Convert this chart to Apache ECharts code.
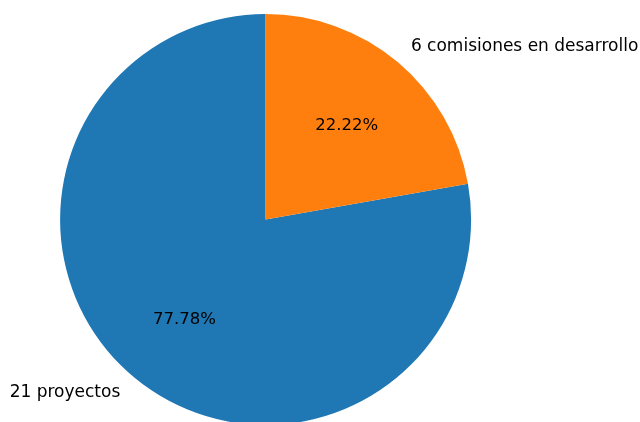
<!DOCTYPE html>
<html>
<head>
<meta charset="utf-8">
<script src="https://cdn.jsdelivr.net/npm/echarts@6/dist/echarts.min.js"></script>
<style>
html,body{margin:0;padding:0;background:#fff;}
#chart{width:640px;height:422px;}
</style>
</head>
<body>
<div id="chart"></div>
<script>
var categories = ['21 proyectos', '6 comisiones en desarrollo'];
var values = [21, 6];
var colors = ['#1f77b4', '#ff7f0e'];

var R = 205.5;
var CENTER = [265.6, 219.5];
var FONT = 'DejaVu Sans';
var total = values.reduce(function (a, b) { return a + b; }, 0);

var data = categories.map(function (c, i) {
  return { name: c, value: values[i], itemStyle: { color: colors[i] } };
});
var ghostData = categories.map(function (c, i) {
  return { name: c, value: values[i], itemStyle: { color: 'rgba(0,0,0,0)' } };
});

var chart = echarts.init(document.getElementById('chart'), null, { renderer: 'canvas' });
chart.setOption({
  animation: false,
  backgroundColor: '#ffffff',
  series: [
    {
      type: 'pie',
      center: CENTER,
      radius: [0, R],
      startAngle: 90,
      clockwise: false,
      avoidLabelOverlap: false,
      silent: true,
      data: data,
      label: {
        show: true,
        position: 'outside',
        formatter: '{b}',
        fontFamily: FONT,
        fontSize: 17,
        color: '#000',
        distanceToLabelLine: 0
      },
      labelLine: { show: false, length: R * 0.1, length2: 0 },
      itemStyle: { borderWidth: 0 }
    },
    {
      type: 'pie',
      center: CENTER,
      radius: [0, R * 1.2],
      startAngle: 90,
      clockwise: false,
      avoidLabelOverlap: false,
      silent: true,
      data: ghostData,
      label: {
        show: true,
        position: 'inside',
        formatter: function (p) { return '{p|' + (p.value / total * 100).toFixed(2) + '%}'; },
        rich: {
          p: {
            fontFamily: FONT,
            fontSize: 16.5,
            color: '#000',
            padding: [6, 0, 0, 0]
          }
        }
      },
      labelLine: { show: false },
      itemStyle: { borderWidth: 0 }
    }
  ]
});
</script>
</body>
</html>
